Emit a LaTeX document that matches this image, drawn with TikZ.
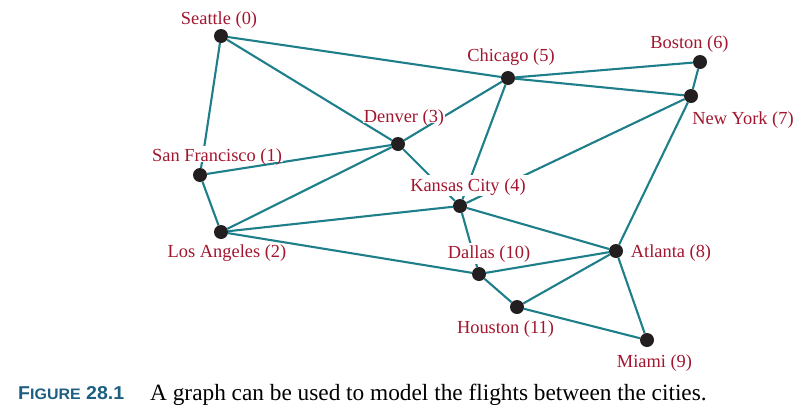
\documentclass[tikz,border=0pt]{standalone}
\usepackage{fontspec}
\usepackage{graphicx}
\setmainfont{Liberation Serif}
\newfontfamily\capsans{Liberation Sans}
\usetikzlibrary{backgrounds}
\definecolor{edgecol}{HTML}{1E7F8A}
\definecolor{labcol}{HTML}{A3162F}
\definecolor{dotcol}{HTML}{231F20}
\definecolor{figcol}{HTML}{1C5F82}
\begin{document}
\begin{tikzpicture}[x=1pt,y=-1pt,
  vtx/.style={circle,fill=dotcol,minimum size=14pt,inner sep=0pt},
  lab/.style={anchor=base,text=labcol,fill=white,inner xsep=3pt,inner ysep=0pt,
    text height=16pt,text depth=5pt,font=\fontsize{18.4}{20}\selectfont},
  tightlab/.style={lab,inner xsep=1pt,text depth=0pt},
  lowlab/.style={lab,text height=13pt},
  edge/.style={draw=edgecol,line width=2.1pt}]
\useasboundingbox (0,0) rectangle (812,413);
% vertices
\node[vtx] (v0) at (221,36) {};
\node[vtx] (v1) at (200,175) {};
\node[vtx] (v2) at (221,232) {};
\node[vtx] (v3) at (398,144) {};
\node[vtx] (v4) at (460,206) {};
\node[vtx] (v5) at (508,78) {};
\node[vtx] (v6) at (700,62) {};
\node[vtx] (v7) at (691,96) {};
\node[vtx] (v8) at (616,251) {};
\node[vtx] (v9) at (647,340) {};
\node[vtx] (v10) at (479,274) {};
\node[vtx] (v11) at (517,307) {};
% labels
\node[lab] (l0) at (219,24.1) {Seattle (0)};
\node[tightlab] (l1) at (217,161.6) {San Francisco (1)};
\node[lowlab] (l2) at (227,257.1) {Los Angeles (2)};
\node[tightlab] (l3) at (404,122.6) {Denver (3)};
\node[lab] (l4) at (468,191.1) {Kansas City (4)};
\node[lab] (l5) at (511,61.1) {Chicago (5)};
\node[lab] (l6) at (689.5,48.6) {Boston (6)};
\node[lab] (l7) at (743,124.6) {New York (7)};
\node[lab] (l8) at (671,257.1) {Atlanta (8)};
\node[lab] (l9) at (654.5,367.1) {Miami (9)};
\node[lab] (l10) at (489,258.6) {Dallas (10)};
\node[lowlab] (l11) at (505.5,333.6) {Houston (11)};
% edges
\begin{scope}[on background layer]
\draw[edge] (v0) -- (v1);
\draw[edge] (v0) -- (v3);
\draw[edge] (v0) -- (v5);
\draw[edge] (v1) -- (v3);
\draw[edge] (v1) -- (v2);
\draw[edge] (v2) -- (v3);
\draw[edge] (v2) -- (v4);
\draw[edge] (v2) -- (v10);
\draw[edge] (v3) -- (v5);
\draw[edge] (v3) -- (v4);
\draw[edge] (v5) -- (v6);
\draw[edge] (v5) -- (v7);
\draw[edge] (v5) -- (v4);
\draw[edge] (v6) -- (v7);
\draw[edge] (v7) -- (v4);
\draw[edge] (v7) -- (v8);
\draw[edge] (v4) -- (v8);
\draw[edge] (v4) -- (v10);
\draw[edge] (v8) -- (v10);
\draw[edge] (v8) -- (v11);
\draw[edge] (v8) -- (v9);
\draw[edge] (v10) -- (v11);
\draw[edge] (v11) -- (v9);
\end{scope}
% caption
\node[anchor=base west,inner sep=0pt] (fig) at (18,399)
  {\color{figcol}\resizebox{106pt}{13pt}{\capsans\bfseries\fontsize{12}{12}\selectfont F\fontsize{9.8}{9.8}\selectfont IGURE\fontsize{12}{12}\selectfont{} 28.1}};
\node[anchor=base west,inner sep=0pt] (cap) at (150,400)
  {\fontsize{23.3}{26}\selectfont A graph can be used to model the flights between the cities.};
\end{tikzpicture}
\end{document}
